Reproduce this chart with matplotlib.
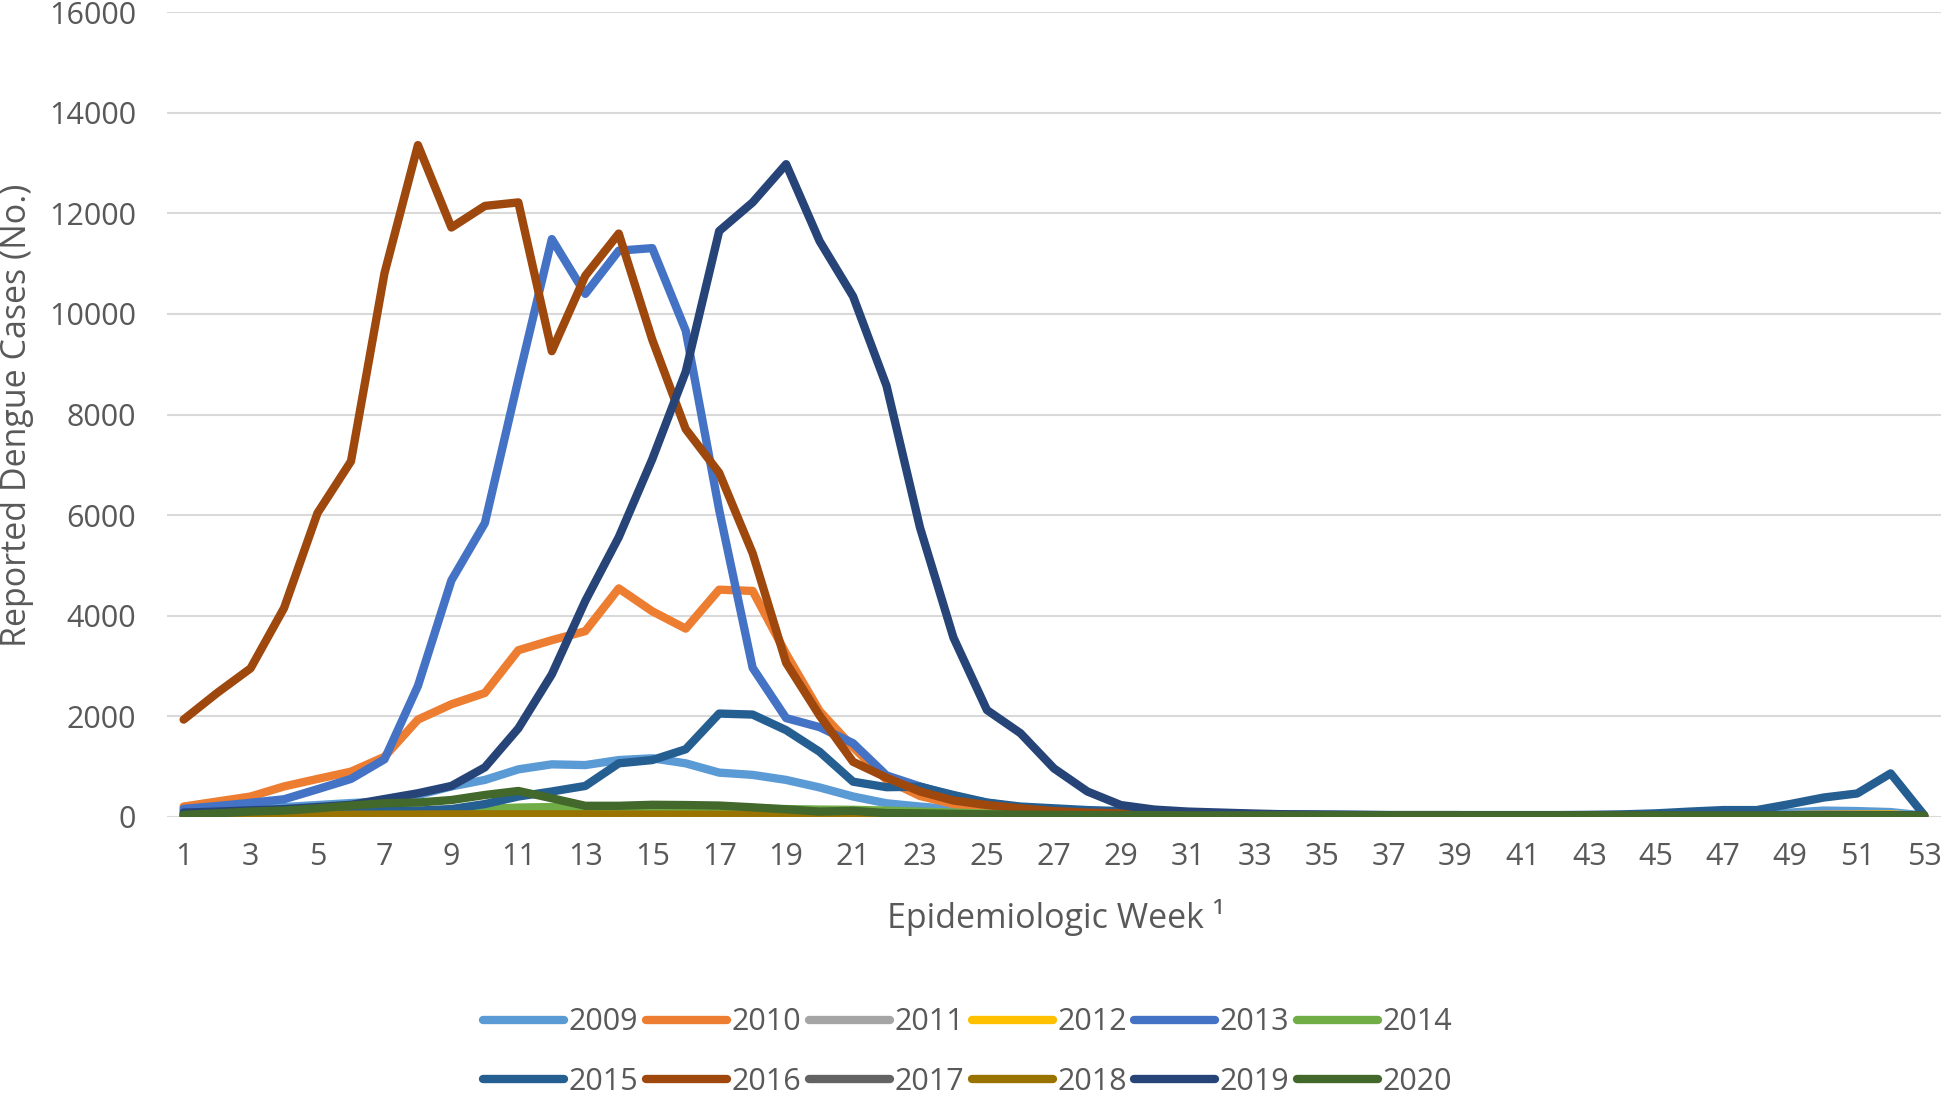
from matplotlib import pyplot as plt

weeks = list(range(1, 54))

y2009 = [120, 140, 160, 190, 230, 270, 300, 430, 600, 730,
         940, 1040, 1025, 1125, 1160, 1060, 875, 830, 730, 580,
         400, 265, 200, 145, 100, 80, 65, 55, 45, 40,
         35, 30, 30, 25, 25, 20, 20, 20, 20, 20,
         20, 25, 25, 30, 35, 40, 50, 60, 80, 120,
         110, 90, 20]
y2010 = [200, 300, 400, 600, 750, 895, 1190, 1930, 2235, 2460,
         3310, 3510, 3690, 4540, 4085, 3740, 4515, 4490, 3240, 2100,
         1380, 730, 410, 250, 165, 110, 80, 60, 45, 35,
         30, 25, 20, 20, 20, 15, 15, 15, 15, 15,
         15, 20, 30, 20, 20, 20, 25, 25, 30, 35,
         35, 30, 15]
y2011 = [20, 22, 25, 28, 30, 32, 35, 38, 40, 42,
         45, 45, 42, 40, 38, 35, 32, 30, 28, 25,
         22, 20, 18, 15, 12, 10, 10, 10, 10, 10,
         8, 8, 8, 8, 8, 8, 8, 8, 8, 8,
         8, 8, 10, 10, 10, 12, 12, 14, 15, 15,
         15, 15, 8]
y2012 = [15, 18, 20, 22, 25, 28, 30, 32, 35, 38,
         40, 42, 40, 38, 36, 34, 32, 30, 28, 25,
         22, 20, 18, 15, 12, 10, 10, 10, 10, 10,
         10, 10, 10, 10, 10, 10, 10, 10, 10, 10,
         10, 12, 12, 15, 15, 18, 20, 25, 30, 35,
         40, 45, 10]
y2013 = [155, 210, 275, 345, 545, 750, 1140, 2600, 4700, 5840,
         8700, 11490, 10400, 11260, 11310, 9670, 6100, 2960, 1960, 1780,
         1460, 820, 600, 410, 275, 180, 110, 70, 45, 35,
         30, 25, 20, 20, 20, 20, 15, 15, 15, 15,
         15, 15, 15, 15, 15, 20, 20, 20, 25, 25,
         25, 25, 10]
y2014 = [30, 40, 50, 60, 70, 80, 90, 100, 120, 150,
         180, 190, 190, 180, 175, 170, 165, 160, 150, 140,
         135, 120, 100, 80, 60, 50, 40, 35, 30, 30,
         25, 25, 25, 25, 25, 25, 25, 25, 25, 25,
         25, 25, 25, 25, 25, 25, 25, 25, 25, 25,
         25, 25, 15]
y2015 = [50, 55, 60, 70, 90, 100, 110, 120, 150, 250,
         400, 500, 610, 1060, 1125, 1340, 2050, 2030, 1720, 1290,
         695, 585, 595, 430, 280, 200, 165, 130, 110, 90,
         70, 60, 50, 45, 40, 35, 30, 30, 30, 30,
         30, 30, 35, 45, 65, 100, 130, 130, 250, 380,
         460, 860, 30]
y2016 = [1930, 2460, 2950, 4150, 6040, 7070, 10810, 13360, 11720, 12150,
         12220, 9260, 10760, 11600, 9490, 7710, 6840, 5240, 3060, 2010,
         1090, 775, 500, 320, 230, 165, 110, 80, 65, 45,
         40, 35, 30, 25, 25, 20, 20, 20, 20, 20,
         20, 20, 25, 20, 20, 20, 20, 25, 25, 30,
         30, 30, 20]
y2017 = [10, 12, 14, 15, 16, 18, 20, 20, 22, 22,
         24, 24, 22, 20, 20, 18, 16, 15, 14, 12,
         10, 10, 10, 8, 8, 8, 8, 8, 8, 8,
         8, 8, 8, 8, 8, 8, 8, 8, 8, 8,
         8, 8, 8, 8, 8, 8, 10, 10, 10, 10,
         10, 10, 5]
y2018 = [20, 22, 25, 30, 35, 38, 40, 42, 45, 45,
         45, 45, 45, 42, 40, 40, 38, 35, 32, 30,
         28, 25, 22, 20, 18, 15, 15, 12, 12, 10,
         10, 10, 10, 10, 10, 10, 10, 10, 10, 10,
         10, 10, 10, 10, 10, 10, 10, 10, 12, 12,
         12, 12, 8]
y2019 = [80, 100, 125, 150, 190, 235, 350, 465, 610, 980,
         1755, 2830, 4290, 5560, 7110, 8850, 11650, 12220, 12980, 11450,
         10350, 8570, 5750, 3560, 2120, 1660, 960, 500, 230, 140,
         100, 80, 60, 45, 40, 35, 30, 30, 30, 25,
         25, 25, 25, 25, 30, 30, 30, 30, 30, 30,
         30, 30, 20]
y2020 = [35, 65, 100, 120, 165, 220, 265, 280, 330, 430,
         510, 365, 215, 215, 235, 230, 220, 185, 145, 100,
         115, 70, 65, 55, 45, 40, 35, 30, 30, 30,
         25, 25, 25, 25, 25, 25, 25, 25, 25, 25,
         25, 25, 25, 25, 25, 25, 25, 25, 25, 25,
         25, 25, 20]

years = ['2009', '2010', '2011', '2012', '2013', '2014',
         '2015', '2016', '2017', '2018', '2019', '2020']
series = [y2009, y2010, y2011, y2012, y2013, y2014,
          y2015, y2016, y2017, y2018, y2019, y2020]
colors = ['#5B9BD5', '#ED7D31', '#A5A5A5', '#FFC000', '#4472C4', '#70AD47',
          '#255E91', '#9E480E', '#636363', '#997300', '#264478', '#43682B']

text_color = '#595959'
plt.rcParams['font.family'] = ['Open Sans', 'DejaVu Sans']
plt.rcParams['font.size'] = 22

fig = plt.figure(figsize=(19.43, 10.97), dpi=100)
ax = fig.add_axes([0.0859, 0.2556, 0.9130, 0.7331])

handles = []
for name, vals, col in zip(years, series, colors):
    h, = ax.plot(weeks, vals, color=col, linewidth=6.0, label=name,
                 solid_capstyle='round', solid_joinstyle='round', zorder=3)
    handles.append(h)

ax.set_xlim(0.5, 53.5)
ax.set_ylim(0, 16000)
ax.set_yticks(range(0, 16001, 2000))
ax.set_xticks(weeks[::2])
ax.grid(axis='y', color='#D9D9D9', linewidth=1.5, zorder=0)
ax.set_axisbelow(True)
for s in ax.spines.values():
    s.set_visible(False)
ax.tick_params(axis='both', length=0, labelcolor=text_color, labelsize=22)
ax.tick_params(axis='y', pad=22)
ax.tick_params(axis='x', pad=18)

fig.text(1056 / 1943, 1 - 918 / 1097, 'Epidemiologic Week \u00b9',
         ha='center', va='center', color=text_color, fontsize=24.5)
fig.text(17 / 1943, 1 - 415 / 1097, 'Reported Dengue Cases (No.)',
         ha='center', va='center', rotation=90, color=text_color, fontsize=24.5)

# legend fills column by column, so interleave the two rows
order = []
for i in range(6):
    order += [i, i + 6]
fig.legend([handles[i] for i in order], [years[i] for i in order],
           ncol=6, loc='center', bbox_to_anchor=(0.498, 0.041),
           frameon=False, fontsize=22, labelcolor=text_color,
           handlelength=2.65, handletextpad=0.15, columnspacing=0.25,
           labelspacing=0.97, borderpad=0, borderaxespad=0)

fig.savefig('out.png', dpi=100)
